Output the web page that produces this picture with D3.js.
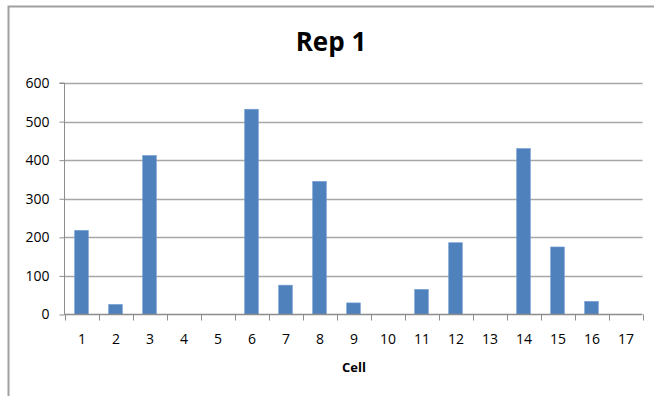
<!DOCTYPE html>
<html><head><meta charset="utf-8">
<script src="https://cdn.jsdelivr.net/npm/d3@7"></script>
<style>
html,body{margin:0;padding:0;background:#fff;}
svg{display:block;}
</style></head>
<body>
<script>
const categories = ["1","2","3","4","5","6","7","8","9","10","11","12","13","14","15","16","17"];
const values = [218, 26, 412, 0, 0, 532, 76, 345, 30, 0, 65, 186, 0, 430, 175, 34, 0];
const yTicks = [0, 100, 200, 300, 400, 500, 600];
const title = "Rep 1";
const xTitle = "Cell";

const W = 654, H = 396;
const mLeft = 64.5, mRight = 642.5, mTop = 83, mBottom = 314.5;

const svg = d3.select("body").append("svg").attr("width", W).attr("height", H);
svg.append("rect").attr("width", W).attr("height", H).attr("fill", "#fff");

// chart border (top and left visible)
svg.append("path").attr("d", `M8.5,${H} L8.5,6.5 L${W},6.5`)
  .attr("fill", "none").attr("stroke", "#a0a0a0").attr("stroke-width", 2);

const x = d3.scaleBand().domain(categories).range([mLeft, mRight]).paddingInner(0.6).paddingOuter(0.3);
const xb = d3.scaleBand().domain(categories).range([mLeft, mRight]);
const y = d3.scaleLinear().domain([0, 600]).range([mBottom, mTop]);

// gridlines
svg.append("g").selectAll("line").data(yTicks.filter(d => d > 0)).join("line")
  .attr("x1", mLeft).attr("x2", mRight)
  .attr("y1", d => Math.round(y(d)) + 0.5).attr("y2", d => Math.round(y(d)) + 0.5)
  .attr("stroke", "#a6a6a6").attr("stroke-width", 1.3);

// y axis
const yAxis = svg.append("g").attr("transform", `translate(${mLeft},0)`)
  .call(d3.axisLeft(y).tickValues(yTicks).tickSize(5).tickPadding(10).tickFormat(d3.format("d")));
yAxis.select(".domain").attr("stroke", "#8c8c8c").attr("d", `M-5,${y(600)}H0V${y(0)}`);
yAxis.selectAll(".tick line").attr("stroke", "#8c8c8c");
yAxis.selectAll(".tick text").attr("font-family", "'Open Sans', sans-serif").attr("font-size", 14).attr("fill", "#000");

// bars
svg.append("g").selectAll("rect").data(values).join("rect")
  .attr("x", (d, i) => x(categories[i]))
  .attr("width", x.bandwidth())
  .attr("y", d => y(d))
  .attr("height", d => y(0) - y(d))
  .attr("fill", "#4f81bd")
  .attr("stroke", d => d > 0 ? "#6f9ad0" : "none").attr("stroke-width", 0.6);

// x axis
const xg = svg.append("g").attr("transform", `translate(0,${mBottom})`);
xg.append("line").attr("x1", mLeft).attr("x2", mRight).attr("y1", 0).attr("y2", 0)
  .attr("stroke", "#8c8c8c").attr("stroke-width", 1.3);
const bounds = categories.map(c => xb(c)).concat([xb(categories[categories.length - 1]) + xb.bandwidth()]);
xg.selectAll("line.tk").data(bounds).join("line").attr("class", "tk")
  .attr("x1", d => Math.round(d) + 0.5).attr("x2", d => Math.round(d) + 0.5)
  .attr("y1", 0).attr("y2", 6).attr("stroke", "#8c8c8c");
xg.selectAll("text").data(categories).join("text")
  .attr("x", d => xb(d) + xb.bandwidth() / 2 + 0.5)
  .attr("y", 29)
  .attr("text-anchor", "middle")
  .attr("font-family", "'Open Sans', sans-serif").attr("font-size", 14).attr("fill", "#000")
  .text(d => d);

// titles
svg.append("text").attr("x", 331).attr("y", 51).attr("text-anchor", "middle")
  .attr("font-family", "'Open Sans', sans-serif").attr("font-weight", "bold").attr("font-size", 26)
  .attr("fill", "#000").text(title);
svg.append("text").attr("x", 354).attr("y", 372).attr("text-anchor", "middle")
  .attr("font-family", "'Open Sans', sans-serif").attr("font-weight", "bold").attr("font-size", 13)
  .attr("fill", "#000").text(xTitle);
</script>
</body></html>
